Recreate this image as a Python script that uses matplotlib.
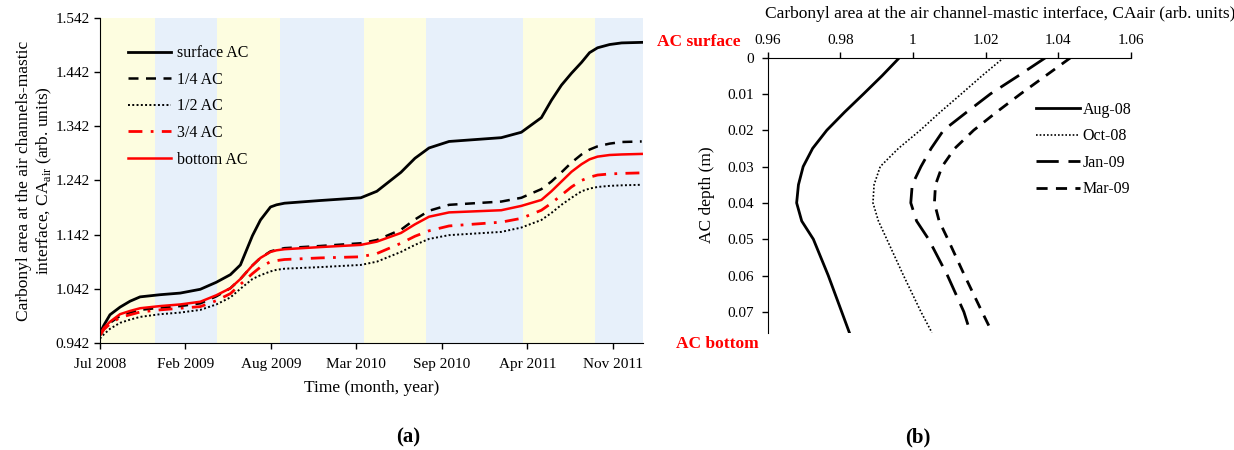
import numpy as np
import matplotlib.pyplot as plt

plt.rcParams['font.family'] = ['Liberation Serif', 'DejaVu Serif']
plt.rcParams['mathtext.fontset'] = 'custom'
plt.rcParams['mathtext.rm'] = 'Liberation Serif'

# (a) carbonyl area vs time, x in days from Jul 2008
days = [0, 10, 25, 50, 75, 100, 150, 200, 250, 290, 325, 350, 380, 400, 425, 440, 460, 550,
        650, 690, 750, 785, 820, 870, 1000, 1050, 1100, 1125, 1150, 1175, 1200, 1220, 1240,
        1270, 1300, 1350]
surface_ac = [0.960, 0.975, 0.994, 1.008, 1.019, 1.027, 1.031, 1.034, 1.041, 1.054, 1.068,
              1.086, 1.140, 1.169, 1.193, 1.197, 1.200, 1.205, 1.210, 1.222, 1.257, 1.283,
              1.302, 1.314, 1.321, 1.331, 1.358, 1.390, 1.418, 1.440, 1.460, 1.478, 1.487,
              1.493, 1.496, 1.497]
quarter_ac = [0.956, 0.968, 0.979, 0.992, 0.998, 1.003, 1.007, 1.010, 1.015, 1.028, 1.043,
              1.060, 1.085, 1.099, 1.111, 1.114, 1.117, 1.121, 1.126, 1.132, 1.151, 1.170,
              1.186, 1.197, 1.203, 1.210, 1.226, 1.240, 1.257, 1.275, 1.290, 1.299, 1.305,
              1.310, 1.313, 1.314]
half_ac = [0.950, 0.958, 0.968, 0.979, 0.985, 0.990, 0.995, 0.998, 1.003, 1.013, 1.026,
           1.042, 1.060, 1.067, 1.074, 1.077, 1.079, 1.082, 1.086, 1.092, 1.110, 1.123,
           1.134, 1.141, 1.147, 1.155, 1.169, 1.182, 1.197, 1.210, 1.222, 1.227, 1.230,
           1.232, 1.233, 1.234]
three_q_ac = [0.956, 0.967, 0.977, 0.989, 0.994, 0.999, 1.003, 1.006, 1.009, 1.020, 1.033,
              1.050, 1.070, 1.082, 1.092, 1.094, 1.096, 1.099, 1.101, 1.107, 1.126, 1.139,
              1.149, 1.158, 1.165, 1.172, 1.187, 1.200, 1.215, 1.230, 1.242, 1.248, 1.252,
              1.254, 1.255, 1.256]
bottom_ac = [0.958, 0.970, 0.981, 0.995, 1.001, 1.006, 1.010, 1.013, 1.018, 1.030, 1.043,
             1.060, 1.085, 1.099, 1.110, 1.113, 1.115, 1.119, 1.123, 1.129, 1.145, 1.161,
             1.175, 1.183, 1.187, 1.195, 1.206, 1.222, 1.240, 1.258, 1.272, 1.281, 1.286,
             1.289, 1.290, 1.291]

tick_days = [0, 213, 426, 639, 852, 1065, 1278]
tick_labels = ['Jul 2008', 'Feb 2009', 'Aug 2009', 'Mar 2010', 'Sep 2010', 'Apr 2011', 'Nov 2011']
season_edges = [0, 137, 291, 448, 658, 812, 1054, 1233, 1353]
season_colors = ['#fdfde0', '#e7f0fa']

# (b) depth profiles
depth = [0, 0.005, 0.01, 0.015, 0.02, 0.025, 0.03, 0.035, 0.04, 0.045, 0.05, 0.06, 0.07, 0.0757]
aug08 = [0.9963, 0.9915, 0.9864, 0.9812, 0.9763, 0.9724, 0.9698, 0.9685, 0.9680, 0.9694,
         0.9726, 0.9767, 0.9804, 0.9825]
oct08 = [1.0250, 1.0190, 1.0133, 1.0075, 1.0020, 0.9960, 0.9910, 0.9893, 0.9890, 0.9905,
         0.9928, 0.9974, 1.0022, 1.0052]
jan09 = [1.0365, 1.0290, 1.0213, 1.0148, 1.0084, 1.0050, 1.0022, 0.9998, 0.9994, 1.0010,
         1.0043, 1.0095, 1.0140, 1.0158]
mar09 = [1.0434, 1.0365, 1.0296, 1.0230, 1.0167, 1.0115, 1.0080, 1.0062, 1.0059, 1.0072,
         1.0096, 1.0142, 1.0190, 1.0218]

fig = plt.figure(figsize=(12.34, 4.5), dpi=100)

# ---- panel (a)
ax = fig.add_axes([0.081, 0.238, 0.440, 0.722])
for i in range(len(season_edges) - 1):
    ax.axvspan(season_edges[i], season_edges[i + 1], color=season_colors[i % 2], lw=0, zorder=0)

ax.plot(days, surface_ac, color='black', lw=2.0, label='surface AC')
ax.plot(days, quarter_ac, color='black', lw=1.8, ls=(0, (4, 3)), label='1/4 AC')
ax.plot(days, half_ac, color='black', lw=1.4, ls=(0, (1, 1.2)), label='1/2 AC')
ax.plot(days, three_q_ac, color='red', lw=2.0, ls=(0, (5, 3, 1, 3)), label='3/4 AC')
ax.plot(days, bottom_ac, color='red', lw=1.8, label='bottom AC')

yt = np.arange(0.942, 1.543, 0.1)
ax.set_xlim(0, 1353)
ax.set_ylim(0.942, 1.542)
ax.set_yticks(yt)
ax.set_yticklabels(['%.3f' % v for v in yt])
ax.set_xticks(tick_days)
ax.set_xticklabels(tick_labels)
ax.tick_params(labelsize=11, direction='out', length=4, width=1)
ax.tick_params(axis='x', pad=7)
for s in ['top', 'right']:
    ax.spines[s].set_visible(False)
ax.set_xlabel('Time (month, year)', fontsize=12.5, labelpad=6)
ax.set_ylabel('Carbonyl area at the air channels-mastic\ninterface, CA$_{\\mathregular{air}}$ (arb. units)',
              fontsize=12.5)
ax.yaxis.set_label_coords(-0.085, 0.5)
ax.legend(loc='upper left', bbox_to_anchor=(0.025, 0.96), frameon=False, fontsize=11.5,
          handlelength=2.7, handletextpad=0.35, labelspacing=0.66)

fig.text(408 / 1234, 1 - 437 / 450, '(a)', fontsize=15, fontweight='bold', ha='center', va='center')

# ---- panel (b)
bx = fig.add_axes([0.622, 0.261, 0.2946, 0.611])
bx.plot(aug08, depth, color='black', lw=2.0, label='Aug-08')
bx.plot(oct08, depth, color='black', lw=1.2, ls=(0, (1, 1.2)), label='Oct-08')
bx.plot(jan09, depth, color='black', lw=2.0, ls=(0, (8, 3.5)), label='Jan-09')
bx.plot(mar09, depth, color='black', lw=2.0, ls=(0, (4, 3)), label='Mar-09')

bx.set_xlim(0.96, 1.06)
bx.set_ylim(0.0757, 0)
bx.set_xticks([0.96, 0.98, 1.0, 1.02, 1.04, 1.06])
bx.set_xticklabels(['0.96', '0.98', '1', '1.02', '1.04', '1.06'])
bx.set_yticks([0, 0.01, 0.02, 0.03, 0.04, 0.05, 0.06, 0.07])
bx.set_yticklabels(['0', '0.01', '0.02', '0.03', '0.04', '0.05', '0.06', '0.07'])
bx.xaxis.tick_top()
bx.tick_params(labelsize=11, direction='out', length=4, width=1)
bx.tick_params(axis='y', pad=6)
for s in ['bottom', 'right']:
    bx.spines[s].set_visible(False)
bx.set_ylabel('AC depth (m)', fontsize=12.5)
bx.yaxis.set_label_coords(-0.145, 0.5)
bx.legend(loc='upper left', bbox_to_anchor=(0.70, 0.892), frameon=False, fontsize=11.5,
          handlelength=2.7, handletextpad=0.2, labelspacing=0.66)

fig.text(1000 / 1234, 1 - 14 / 450,
         'Carbonyl area at the air channel-mastic interface, CAair (arb. units)',
         fontsize=12.5, ha='center', va='center')
fig.text(741 / 1234, 1 - 42 / 450, 'AC surface', color='red', fontsize=12.5, fontweight='bold',
         ha='right', va='center')
fig.text(759 / 1234, 1 - 344 / 450, 'AC bottom', color='red', fontsize=12.5, fontweight='bold',
         ha='right', va='center')
fig.text(918 / 1234, 1 - 437 / 450, '(b)', fontsize=15, fontweight='bold', ha='center', va='center')

fig.savefig('out.png', dpi=100)
